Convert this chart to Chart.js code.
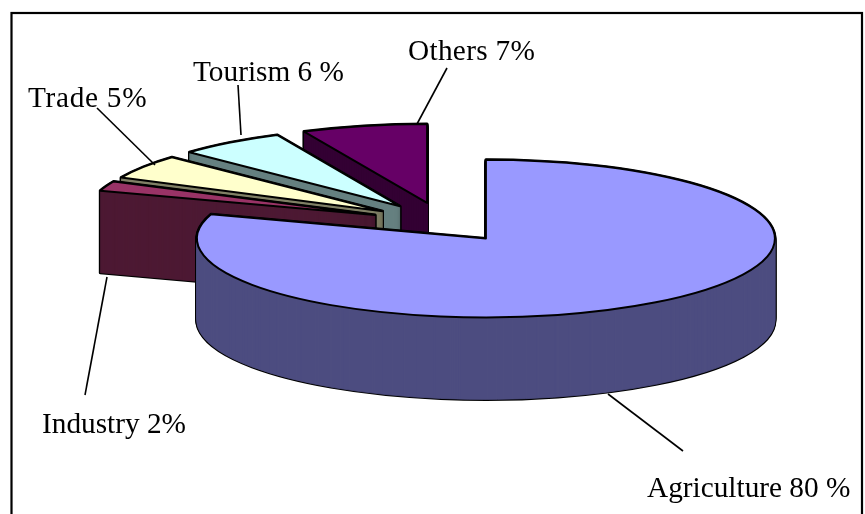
<!DOCTYPE html>
<html>
<head>
<meta charset="utf-8">
<style>html,body{margin:0;padding:0;background:#fff;overflow:hidden}canvas{display:block}</style>
<script src="https://cdn.jsdelivr.net/npm/chart.js@4"></script>
</head>
<body>
<canvas id="c" width="865" height="514"></canvas>
<script>
const categories = ["Agriculture", "Industry", "Trade", "Tourism", "Others"];
const shares = [80, 2, 5, 6, 7];
const sliceLabels = ["Agriculture 80 %", "Industry 2%", "Trade 5%", "Tourism 6 %", "Others 7%"];
const topColors = ["#9999FF", "#993366", "#FFFFCC", "#CCFFFF", "#660066"];
const wallColors = ["#4D4D80", "#4D1933", "#808066", "#668080", "#330033"];
const drawOrder = [4, 3, 2, 1, 0];

const view = { cx: 443, cy: 222.4, tilt: 0.273, depth: 82, explode: 73, radius: 289 };
const labelSpots = [[647, 497], [42, 433], [28, 107], [193, 81], [408, 60]];
const labelSpacing = [0, 0, 0.7, 0, 0.3];
const leaders = [[[608, 394], [683, 451]], [[107, 277], [85, 395]], [[155, 165], [97, 108]], [[241, 135], [238, 85]], [[417, 124], [447, 68]]];
const frame = { left: 11.5, top: 13, right: 862, bottom: 530 };

function drawArc(ctx, arc, opts) {
  const saved = arc.options;
  arc.options = Object.assign({
    spacing: 0, offset: 0, borderRadius: 0, borderAlign: "center",
    borderJoinStyle: "round", circular: true
  }, opts);
  arc.draw(ctx);
  arc.options = saved;
}

const pie3d = {
  id: "pie3d",
  beforeDatasetDraw(chart, args) {
    const ctx = chart.ctx;
    const arcs = args.meta.data;
    const base = ctx.getTransform();
    let strokeWidth = 2;
    // strokes are applied in screen space so the squash doesn't distort line width
    ctx.stroke = function () {
      const m = ctx.getTransform();
      ctx.setTransform(base);
      ctx.lineWidth = strokeWidth;
      CanvasRenderingContext2D.prototype.stroke.call(ctx);
      ctx.setTransform(m);
    };
    const place = (arc, dy) => {
      const half = (arc.startAngle + arc.endAngle) / 2;
      ctx.setTransform(base);
      ctx.translate(view.cx, view.cy + dy);
      ctx.scale(1, view.tilt);
      ctx.translate(Math.cos(half) * view.explode, Math.sin(half) * view.explode);
      ctx.translate(-arc.x, -arc.y);
    };
    drawOrder.forEach(i => {
      const arc = arcs[i];
      strokeWidth = 3;
      for (let d = view.depth; d >= 0; d--) {
        place(arc, d);
        drawArc(ctx, arc, { backgroundColor: "#000", borderColor: "#000", borderWidth: 1 });
      }
      strokeWidth = 0.8;
      for (let d = view.depth; d >= 0; d--) {
        place(arc, d);
        drawArc(ctx, arc, { backgroundColor: wallColors[i], borderColor: wallColors[i], borderWidth: 1 });
      }
      strokeWidth = 2;
      place(arc, 0);
      drawArc(ctx, arc, { backgroundColor: topColors[i], borderColor: "#000", borderWidth: 1 });
    });
    ctx.setTransform(base);
    delete ctx.stroke;
    return false;
  },
  afterDraw(chart) {
    const ctx = chart.ctx;
    ctx.save();
    ctx.strokeStyle = "#000";
    ctx.lineWidth = 2.2;
    ctx.strokeRect(frame.left, frame.top, frame.right - frame.left, frame.bottom - frame.top);
    ctx.lineWidth = 1.6;
    leaders.forEach(l => {
      ctx.beginPath();
      ctx.moveTo(l[0][0], l[0][1]);
      ctx.lineTo(l[1][0], l[1][1]);
      ctx.stroke();
    });
    ctx.fillStyle = "#000";
    ctx.font = '29.3px "Liberation Serif"';
    ctx.textBaseline = "alphabetic";
    sliceLabels.forEach((t, i) => {
      ctx.letterSpacing = labelSpacing[i] + "px";
      ctx.fillText(t, labelSpots[i][0], labelSpots[i][1]);
    });
    ctx.restore();
  }
};

new Chart(document.getElementById("c"), {
  type: "pie",
  data: {
    labels: categories,
    datasets: [{ data: shares, backgroundColor: topColors, borderColor: "#000", borderWidth: 1 }]
  },
  options: {
    responsive: false,
    animation: false,
    radius: view.radius,
    plugins: { legend: { display: false }, tooltip: { enabled: false } }
  },
  plugins: [pie3d]
});
</script>
</body>
</html>
